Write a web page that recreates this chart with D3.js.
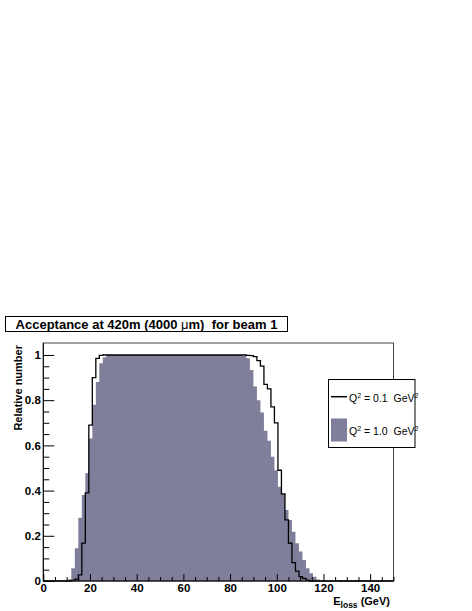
<!DOCTYPE html>
<html>
<head>
<meta charset="utf-8">
<script src="https://cdn.jsdelivr.net/npm/d3@7"></script>
<style>
  html, body { margin: 0; padding: 0; background: #fff; }
  svg { display: block; font-family: "Liberation Sans", Arial, Helvetica, sans-serif; }
  text { white-space: pre; }
</style>
</head>
<body>
<svg id="chart" width="472" height="611"></svg>
<script>
// ---- data ----
const titleText = ["Acceptance at 420m (4000 ", "\u03bc", "m)  for beam 1"];
const xTicks = [0, 20, 40, 60, 80, 100, 120, 140];
const yTicks = [0, 0.2, 0.4, 0.6, 0.8, 1];
const yTickLabels = ["0", "0.2", "0.4", "0.6", "0.8", "1"];
const xDomain = [0, 150];
const yDomain = [0, 1.053];
const binWidth = 1.5; // GeV, 100 bins over 0-150

// Q^2 = 0.1 GeV^2 (black outline)
const q01 = [
  0, 0, 0, 0, 0, 0, 0, 0, 0.003, 0.008,
  0.027, 0.168, 0.39, 0.69, 0.90, 0.985, 0.998, 1, 1, 1,
  1, 1, 1, 1, 1, 1, 1, 1, 1, 1,
  1, 1, 1, 1, 1, 1, 1, 1, 1, 1,
  1, 1, 1, 1, 1, 1, 1, 1, 1, 1,
  1, 1, 1, 1, 1, 1, 1, 1, 0.998, 0.997,
  0.993, 0.975, 0.951, 0.87, 0.85, 0.77, 0.70, 0.49, 0.385, 0.27,
  0.167, 0.081, 0.044, 0.019, 0.012, 0.004, 0, 0, 0, 0,
  0, 0, 0, 0, 0, 0, 0, 0, 0, 0,
  0, 0, 0, 0, 0, 0, 0, 0, 0, 0
];
// Q^2 = 1.0 GeV^2 (filled)
const q10 = [
  0, 0, 0, 0, 0, 0, 0.002, 0.008, 0.056, 0.145,
  0.28, 0.38, 0.477, 0.63, 0.78, 0.88, 0.963, 0.99, 1, 1,
  1, 1, 1, 1, 1, 1, 1, 1, 1, 1,
  1, 1, 1, 1, 1, 1, 1, 1, 1, 1,
  1, 1, 1, 1, 1, 1, 1, 1, 1, 1,
  1, 1, 1, 1, 1, 1, 1, 0.995, 0.985, 0.934,
  0.86, 0.80, 0.745, 0.665, 0.62, 0.55, 0.49, 0.417, 0.38, 0.314,
  0.27, 0.218, 0.167, 0.13, 0.093, 0.056, 0.034, 0.019, 0.007, 0.003,
  0, 0, 0, 0, 0, 0, 0, 0, 0, 0,
  0, 0, 0, 0, 0, 0, 0, 0, 0, 0
];

// ---- layout ----
const svg = d3.select("#chart");
const L = 43.3, R = 393.5, T = 343, B = 581;
const x = d3.scaleLinear().domain(xDomain).range([L, R]);
const y = d3.scaleLinear().domain(yDomain).range([B, T]);
const fillColor = "rgb(127,127,156)";

function toPoints(vals) {
  const pts = vals.map((v, i) => [i * binWidth, v]);
  pts.push([vals.length * binWidth, vals[vals.length - 1]]);
  return pts;
}

// filled histogram
const area = d3.area().curve(d3.curveStepAfter)
  .x(d => x(d[0])).y0(y(0)).y1(d => y(d[1]));
svg.append("path").datum(toPoints(q10))
  .attr("d", area).attr("fill", fillColor).attr("stroke", "none");

// outline histogram
const line = d3.line().curve(d3.curveStepAfter)
  .x(d => x(d[0])).y(d => y(d[1]));
svg.append("path").datum(toPoints(q01))
  .attr("d", line).attr("fill", "none").attr("stroke", "#000").attr("stroke-width", 1.3);

// frame
svg.append("rect").attr("x", L).attr("y", T).attr("width", R - L).attr("height", B - T)
  .attr("fill", "none").attr("stroke", "#444").attr("stroke-width", 1);

// axes
const yMinor = d3.range(0, 21).map(i => i * 0.05).filter(v => yTicks.indexOf(+v.toFixed(2)) < 0);
const xMinor = d3.range(0, 31).map(i => i * 5).filter(v => xTicks.indexOf(v) < 0);

const gy = svg.append("g").attr("transform", `translate(${L},0)`)
  .call(d3.axisLeft(y).tickValues(yTicks).tickSize(-11).tickPadding(2.5)
    .tickFormat((d, i) => yTickLabels[i]));
const gyMinor = svg.append("g").attr("transform", `translate(${L},0)`)
  .call(d3.axisLeft(y).tickValues(yMinor).tickSize(-6).tickFormat(""));
const gx = svg.append("g").attr("transform", `translate(0,${B})`)
  .call(d3.axisBottom(x).tickValues(xTicks).tickSize(-7).tickPadding(2.5));
const gxMinor = svg.append("g").attr("transform", `translate(0,${B})`)
  .call(d3.axisBottom(x).tickValues(xMinor).tickSize(-4).tickFormat(""));

[gy, gyMinor, gx, gxMinor].forEach(g => {
  g.select(".domain").attr("stroke", "#000").attr("stroke-width", 1);
  g.selectAll(".tick line").attr("stroke", "#000").attr("stroke-width", 1);
  g.selectAll("text").attr("font-family", "Liberation Sans, Arial, sans-serif")
    .attr("font-weight", "bold").attr("font-size", 11.5).attr("fill", "#000");
});
gyMinor.select(".domain").remove();
gxMinor.select(".domain").remove();
gy.select(".domain").attr("d", `M0,${B}V${T}`);
gx.select(".domain").attr("d", `M${L},0H${R}`);

// axis titles
svg.append("text")
  .attr("transform", `translate(21.5,${T + 2}) rotate(-90)`)
  .attr("text-anchor", "end").attr("font-weight", "bold").attr("font-size", 11)
  .text("Relative number");

const xt = svg.append("text").attr("x", 390).attr("y", 605)
  .attr("text-anchor", "end").attr("font-weight", "bold").attr("font-size", 11);
xt.append("tspan").text("E");
xt.append("tspan").attr("dy", 2.5).attr("font-size", 8.5).text("loss");
xt.append("tspan").attr("dy", -2.5).text(" (GeV)");

// title box
svg.append("rect").attr("x", 5.5).attr("y", 316.5).attr("width", 282).attr("height", 15)
  .attr("fill", "#fff").attr("stroke", "#000").attr("stroke-width", 1);
const tt = svg.append("text").attr("x", 146.5).attr("y", 328.5)
  .attr("text-anchor", "middle").attr("font-weight", "bold").attr("font-size", 13);
tt.append("tspan").text(titleText[0]);
tt.append("tspan").attr("font-weight", "normal").text(titleText[1]);
tt.append("tspan").text(titleText[2]);

// legend
const lg = svg.append("g");
lg.append("rect").attr("x", 328.5).attr("y", 379.5).attr("width", 86.5).attr("height", 68)
  .attr("fill", "#fff").attr("stroke", "#000").attr("stroke-width", 1);
lg.append("line").attr("x1", 331).attr("x2", 347).attr("y1", 396.7).attr("y2", 396.7)
  .attr("stroke", "#000").attr("stroke-width", 1.5);
lg.append("rect").attr("x", 331).attr("y", 418.5).attr("width", 16).attr("height", 23)
  .attr("fill", fillColor);
const legendLabels = [["Q", "2", " = 0.1  GeV", "2"], ["Q", "2", " = 1.0  GeV", "2"]];
const legendY = [401.5, 434.5];
legendLabels.forEach((parts, i) => {
  const t = lg.append("text").attr("x", 349).attr("y", legendY[i]).attr("font-size", 10.5);
  t.append("tspan").text(parts[0]);
  t.append("tspan").attr("dy", -4).attr("font-size", 7).text(parts[1]);
  t.append("tspan").attr("dy", 4).text(parts[2]);
  t.append("tspan").attr("dy", -4).attr("font-size", 7).text(parts[3]);
});
</script>
</body>
</html>
